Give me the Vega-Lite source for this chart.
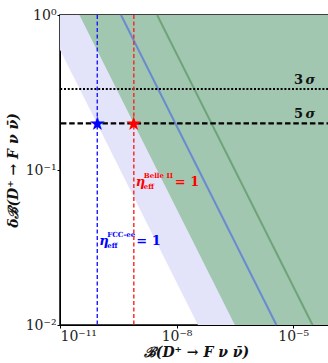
{
  "$schema": "https://vega.github.io/schema/vega-lite/v6.json",
  "autosize": {"type": "none"},
  "padding": {"left": 60, "top": 15, "right": 0, "bottom": 38},
  "width": 272,
  "height": 310,
  "background": "white",
  "config": {
    "view": {"stroke": "black", "strokeWidth": 1.5},
    "axis": {"grid": false, "domainColor": "black", "tickColor": "black", "labelColor": "#222", "titleColor": "#111", "zindex": 1}
  },
  "datasets": {
    "bands": [
      {"band": "lav", "x": 1e-11, "y": 0.5957, "y2": 1},
      {"band": "lav", "x": 3.548e-8, "y": 0.01, "y2": 1},
      {"band": "lav", "x": 1e-4, "y": 0.01, "y2": 1},
      {"band": "green", "x": 3.162e-11, "y": 1, "y2": 1},
      {"band": "green", "x": 3.162e-7, "y": 0.01, "y2": 1},
      {"band": "green", "x": 1e-4, "y": 0.01, "y2": 1}
    ],
    "lines": [
      {"series": "blue", "x": 3.715e-10, "y": 1},
      {"series": "blue", "x": 3.715e-6, "y": 0.01},
      {"series": "green", "x": 3.162e-9, "y": 1},
      {"series": "green", "x": 3.162e-5, "y": 0.01}
    ],
    "exps": [
      {"exp": "FCC-ee", "x": 9.1e-11, "y": 0.2, "ly": 0.0328},
      {"exp": "Belle II", "x": 7.94e-10, "y": 0.2, "ly": 0.0788}
    ],
    "sigmas": [
      {"n": "3", "x": 3.65e-5, "y": 0.3333},
      {"n": "5", "x": 3.65e-5, "y": 0.2}
    ]
  },
  "layer": [
    {
      "data": {"name": "bands"},
      "transform": [{"filter": "datum.band == 'lav'"}],
      "mark": {"type": "area", "color": "#e3e3f9"},
      "encoding": {
        "x": {"field": "x", "type": "quantitative", "scale": {"type": "log", "domain": [1e-11, 1e-4], "nice": false},
              "axis": {"orient": "bottom", "values": [1e-11, 1e-8, 1e-5], "labelExpr": "datum.value < 1e-10 ? '10⁻¹¹' : datum.value < 1e-7 ? '10⁻⁸' : '10⁻⁵'",
                       "labelFont": "DejaVu Serif", "labelFontSize": 14, "tickSize": 3, "labelPadding": 1,
                       "title": "ℬ(D⁺ → F ν ν̄)", "titleFont": "DejaVu Serif", "titleFontStyle": "italic", "titleFontWeight": "bold", "titleFontSize": 14, "titlePadding": 2}},
        "y": {"field": "y", "type": "quantitative", "scale": {"type": "log", "domain": [0.01, 1], "nice": false},
              "axis": {"orient": "left", "values": [0.01, 0.1, 1], "labelExpr": "datum.value < 0.05 ? '10⁻²' : datum.value < 0.5 ? '10⁻¹' : '10⁰'",
                       "labelFont": "DejaVu Serif", "labelFontSize": 14, "tickSize": 3, "labelPadding": 1,
                       "title": "δℬ(D⁺ → F ν ν̄)", "titleFont": "DejaVu Serif", "titleFontStyle": "italic", "titleFontWeight": "bold", "titleFontSize": 14, "titlePadding": 5}},
        "y2": {"field": "y2"}
      }
    },
    {
      "data": {"name": "bands"},
      "transform": [{"filter": "datum.band == 'green'"}],
      "mark": {"type": "area", "color": "#a1c7b1"},
      "encoding": {
        "x": {"field": "x", "type": "quantitative"},
        "y": {"field": "y", "type": "quantitative"},
        "y2": {"field": "y2"}
      }
    },
    {
      "data": {"name": "lines"},
      "transform": [{"filter": "datum.series == 'blue'"}],
      "mark": {"type": "line", "strokeWidth": 2, "color": "#6a8bcf"},
      "encoding": {
        "x": {"field": "x", "type": "quantitative"},
        "y": {"field": "y", "type": "quantitative"}
      }
    },
    {
      "data": {"name": "lines"},
      "transform": [{"filter": "datum.series == 'green'"}],
      "mark": {"type": "line", "strokeWidth": 2, "color": "#6fa47a"},
      "encoding": {
        "x": {"field": "x", "type": "quantitative"},
        "y": {"field": "y", "type": "quantitative"}
      }
    },
    {
      "data": {"values": [{"level": "3 σ", "y": 0.3333}]},
      "mark": {"type": "rule", "color": "black", "strokeWidth": 2, "strokeDash": [2, 1.8]},
      "encoding": {"y": {"field": "y", "type": "quantitative"}}
    },
    {
      "data": {"values": [{"level": "5 σ", "y": 0.2}]},
      "mark": {"type": "rule", "color": "black", "strokeWidth": 2.2, "strokeDash": [5.5, 2.8]},
      "encoding": {"y": {"field": "y", "type": "quantitative"}}
    },
    {
      "data": {"name": "sigmas"},
      "layer": [
        {"mark": {"type": "text", "align": "right", "baseline": "alphabetic", "dy": -5, "dx": -12, "font": "DejaVu Serif", "fontWeight": "bold", "fontSize": 13, "color": "#111111"},
         "encoding": {"text": {"field": "n"}}},
        {"mark": {"type": "text", "align": "right", "baseline": "alphabetic", "dy": -5, "font": "DejaVu Serif", "fontWeight": "bold", "fontStyle": "italic", "fontSize": 13, "color": "#111111"},
         "encoding": {"text": {"value": "σ"}}}
      ],
      "encoding": {
        "x": {"field": "x", "type": "quantitative"},
        "y": {"field": "y", "type": "quantitative"}
      }
    },
    {
      "data": {"name": "exps"},
      "transform": [{"filter": "datum.exp == 'FCC-ee'"}],
      "layer": [
        {"mark": {"type": "rule", "strokeWidth": 1.4, "strokeDash": [4, 2.5], "color": "#1a1aff"},
         "encoding": {"x": {"field": "x", "type": "quantitative"}}},
        {"mark": {"type": "text", "align": "center", "baseline": "middle", "dy": 1, "font": "DejaVu Sans", "fontSize": 19, "color": "#0000ff"},
         "encoding": {"x": {"field": "x", "type": "quantitative"}, "y": {"field": "y", "type": "quantitative"}, "text": {"value": "★"}}},
        {"mark": {"type": "text", "align": "left", "baseline": "alphabetic", "dx": 2, "font": "DejaVu Serif", "fontStyle": "italic", "fontWeight": "bold", "fontSize": 13, "color": "#0000ff"},
         "encoding": {"x": {"field": "x", "type": "quantitative"}, "y": {"field": "ly", "type": "quantitative"}, "text": {"value": "η"}}},
        {"mark": {"type": "text", "align": "left", "baseline": "alphabetic", "dx": 10, "dy": 3, "font": "DejaVu Serif", "fontWeight": "bold", "fontSize": 7, "color": "#0000ff"},
         "encoding": {"x": {"field": "x", "type": "quantitative"}, "y": {"field": "ly", "type": "quantitative"}, "text": {"value": "eff"}}},
        {"mark": {"type": "text", "align": "left", "baseline": "alphabetic", "dx": 10, "dy": -8, "font": "DejaVu Serif", "fontWeight": "bold", "fontSize": 7, "color": "#0000ff"},
         "encoding": {"x": {"field": "x", "type": "quantitative"}, "y": {"field": "ly", "type": "quantitative"}, "text": {"field": "exp"}}},
        {"mark": {"type": "text", "align": "left", "baseline": "alphabetic", "dx": 39, "font": "DejaVu Serif", "fontWeight": "bold", "fontSize": 13, "color": "#0000ff"},
         "encoding": {"x": {"field": "x", "type": "quantitative"}, "y": {"field": "ly", "type": "quantitative"}, "text": {"value": "= 1"}}}
      ]
    },
    {
      "data": {"name": "exps"},
      "transform": [{"filter": "datum.exp == 'Belle II'"}],
      "layer": [
        {"mark": {"type": "rule", "strokeWidth": 1.4, "strokeDash": [4, 2.5], "color": "#ff2020"},
         "encoding": {"x": {"field": "x", "type": "quantitative"}}},
        {"mark": {"type": "text", "align": "center", "baseline": "middle", "dy": 1, "font": "DejaVu Sans", "fontSize": 19, "color": "#ff0000"},
         "encoding": {"x": {"field": "x", "type": "quantitative"}, "y": {"field": "y", "type": "quantitative"}, "text": {"value": "★"}}},
        {"mark": {"type": "text", "align": "left", "baseline": "alphabetic", "dx": 2, "font": "DejaVu Serif", "fontStyle": "italic", "fontWeight": "bold", "fontSize": 13, "color": "#ff0000"},
         "encoding": {"x": {"field": "x", "type": "quantitative"}, "y": {"field": "ly", "type": "quantitative"}, "text": {"value": "η"}}},
        {"mark": {"type": "text", "align": "left", "baseline": "alphabetic", "dx": 10, "dy": 3, "font": "DejaVu Serif", "fontWeight": "bold", "fontSize": 7, "color": "#ff0000"},
         "encoding": {"x": {"field": "x", "type": "quantitative"}, "y": {"field": "ly", "type": "quantitative"}, "text": {"value": "eff"}}},
        {"mark": {"type": "text", "align": "left", "baseline": "alphabetic", "dx": 10, "dy": -8, "font": "DejaVu Serif", "fontWeight": "bold", "fontSize": 7, "color": "#ff0000"},
         "encoding": {"x": {"field": "x", "type": "quantitative"}, "y": {"field": "ly", "type": "quantitative"}, "text": {"field": "exp"}}},
        {"mark": {"type": "text", "align": "left", "baseline": "alphabetic", "dx": 41, "font": "DejaVu Serif", "fontWeight": "bold", "fontSize": 13, "color": "#ff0000"},
         "encoding": {"x": {"field": "x", "type": "quantitative"}, "y": {"field": "ly", "type": "quantitative"}, "text": {"value": "= 1"}}}
      ]
    }
  ]
}
